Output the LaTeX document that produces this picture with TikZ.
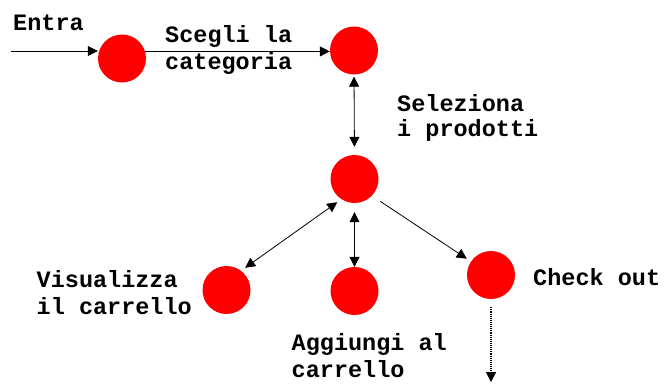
\documentclass[tikz,border=0pt]{standalone}
\usepackage{fontspec}
\setmainfont{Liberation Mono}
\usetikzlibrary{arrows.meta}
\begin{document}
\begin{tikzpicture}[x=1pt,y=-1pt,
  state/.style={circle,fill=red,draw=none,minimum size=48pt,inner sep=0pt},
  lbl/.style={anchor=base west,inner sep=0pt,align=left,font=\fontsize{23.5}{27}\selectfont\bfseries},
  conn/.style={line width=0.8pt,black},
  tip/.tip={Triangle[length=10pt,width=10pt]}]
\useasboundingbox (0,0) rectangle (664,383);
\node[state] (c1) at (122,58.5) {};
\node[state] (c2) at (354,50.5) {};
\node[state] (c3) at (354.5,179) {};
\node[state] (c4) at (226.5,290) {};
\node[state] (c5) at (354.5,291) {};
\node[state] (c6) at (491,275) {};
\coordinate (start) at (11,51);
\coordinate (endout) at (491,382);
% labels (base anchor = baseline of last line)
\node[lbl] (tEntra) at (13,30) {Entra};
\node[lbl] (tScegli) at (165,69) {Scegli la\\categoria};
\node[lbl,font=\fontsize{23.5}{25}\selectfont\bfseries] (tSel) at (397,136) {Seleziona\\i prodotti};
\node[lbl] (tVis) at (36.5,314) {Visualizza\\il carrello};
\node[lbl] (tAgg) at (291.5,377) {Aggiungi al\\carrello};
\node[lbl] (tCheck) at (533,285.7) {Check out};
% connectors
\draw[conn,-tip] (start) -- (start -| c1.west);
\draw[conn,-tip] (c1.17) -- (c1.17 -| c2.west);
\draw[conn,tip-tip,shorten <=2pt,shorten >=8pt] (c2.south) -- (c3.north);
\draw[conn,tip-tip,shorten <=5pt,shorten >=5pt] (c3.237) -- (c4.53);
\draw[conn,tip-tip,shorten <=9pt,shorten >=0pt] (c3.south) -- (c5.north);
\draw[conn,-tip,shorten <=10pt,shorten >=5pt] (c3.316) -- (c6.146);
\draw[conn,line width=1.1pt,densely dotted,-tip,shorten <=8pt] (c6.south) -- (endout);
\end{tikzpicture}
\end{document}
